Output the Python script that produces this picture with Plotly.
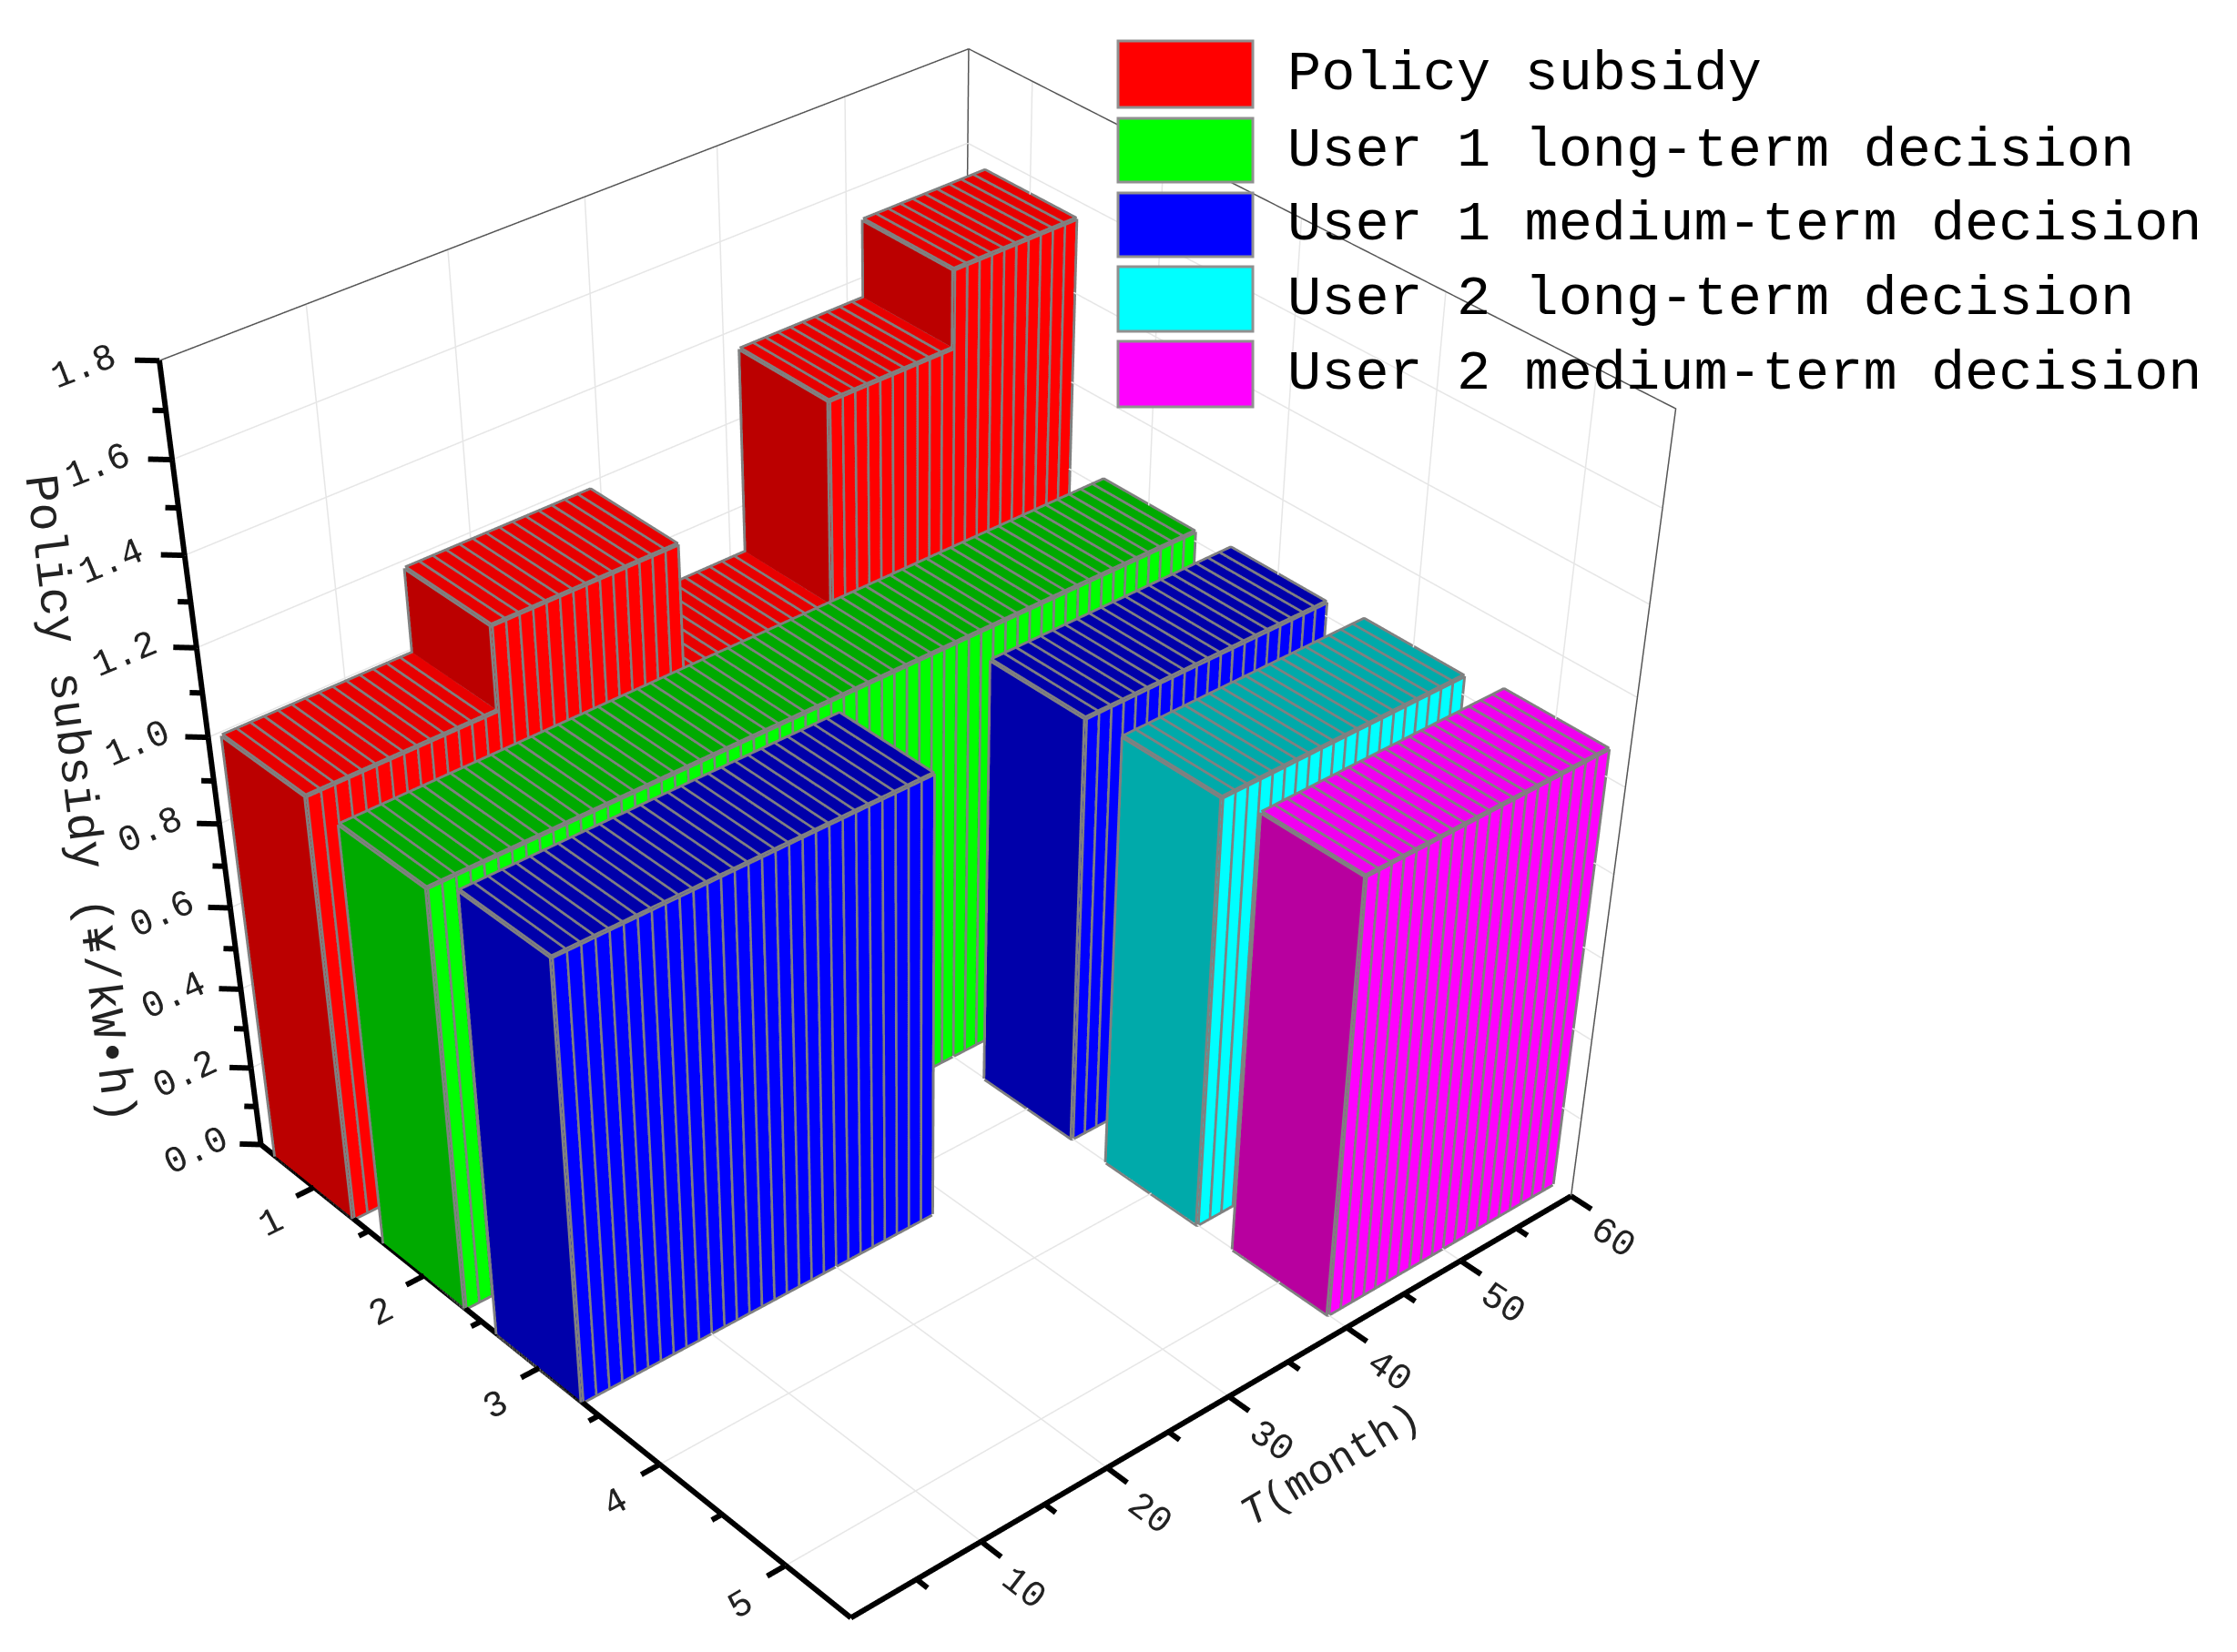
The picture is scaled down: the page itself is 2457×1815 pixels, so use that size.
import plotly.graph_objects as go

# ---- data ----
series_names = ["Policy subsidy", "User 1 long-term decision", "User 1 medium-term decision",
                "User 2 long-term decision", "User 2 medium-term decision"]
category_ticks = [1, 2, 3, 4, 5]
category_minor_ticks = [1.5, 2.5, 3.5, 4.5]
month_ticks = [10, 20, 30, 40, 50, 60]
month_minor_ticks = [5, 15, 25, 35, 45, 55]
value_ticks = [0.0, 0.2, 0.4, 0.6, 0.8, 1.0, 1.2, 1.4, 1.6, 1.8]
value_minor_ticks = [0.1, 0.3, 0.5, 0.7, 0.9, 1.1, 1.3, 1.5, 1.7]

policy_row = 1
policy_spans = [(0, 14), (14, 28), (28, 40), (40, 50), (50, 60)]
policy_values = [1.03, 1.22, 0.93, 1.39, 1.56]

user1_long_row = 2
user1_long_spans = [(0, 60)]
user1_long_values = [1.02]

user1_medium_row = 3
user1_medium_spans = [(0, 28), (40, 60)]
user1_medium_values = [1.07, 1.03]

user2_long_row = 4
user2_long_spans = [(40, 60)]
user2_long_values = [1.04]

user2_medium_row = 5
user2_medium_spans = [(40, 60)]
user2_medium_values = [1.06]

# ---- style ----
side_colors = ["#ff0000", "#00ff00", "#0000ff", "#00ffff", "#ff00ff"]
top_colors = ["#e80000", "#00aa00", "#0000aa", "#00aaaa", "#f000f0"]
end_colors = ["#bb0000", "#00aa00", "#0000aa", "#00aaaa", "#b8009f"]
edge = "#808080"
half_width = 0.36
X_RANGE = [0.5, 5.5]
Y_RANGE = [0, 60]
Z_RANGE = [0, 1.8]
# the scene is a little larger than the plotted box so that ticks are not clipped
X_PAD, Y_PAD, Z_PAD = 0.2, 2.0, 0.03

fig = go.Figure()


def add_series(row, spans, values, k):
    X, Y, Z, I, J, K, FC = [], [], [], [], [], [], []
    lx, ly, lz = [], [], []
    x0, x1 = row - half_width, row + half_width
    for (a, b), h in zip(spans, values):
        for m in range(a, b):
            y0, y1 = m, m + 1
            n = len(X)
            X += [x0, x1, x1, x0, x0, x1, x1, x0]
            Y += [y0, y0, y1, y1, y0, y0, y1, y1]
            Z += [0, 0, 0, 0, h, h, h, h]
            quads = [((4, 5, 6), top_colors[k]), ((4, 6, 7), top_colors[k]),
                     ((1, 2, 6), side_colors[k]), ((1, 6, 5), side_colors[k]),
                     ((0, 1, 5), end_colors[k]), ((0, 5, 4), end_colors[k])]
            for (p, q, r), c in quads:
                I.append(n + p); J.append(n + q); K.append(n + r); FC.append(c)
            lx += [x0, x1, x1, x0, x0, None]
            ly += [y0, y0, y1, y1, y0, None]
            lz += [h, h, h, h, h, None]
            for vx, vy in [(x1, y0), (x1, y1), (x0, y0)]:
                lx += [vx, vx, None]; ly += [vy, vy, None]; lz += [0, h, None]
            lx += [x0, x1, x1, None]; ly += [y0, y0, y1, None]; lz += [0, 0, 0, None]
    fig.add_trace(go.Mesh3d(x=X, y=Y, z=Z, i=I, j=J, k=K, facecolor=FC, flatshading=True,
                            name=series_names[k], hoverinfo="skip",
                            lighting=dict(ambient=1, diffuse=0, specular=0, roughness=1, fresnel=0)))
    fig.add_trace(go.Scatter3d(x=lx, y=ly, z=lz, mode="lines", line=dict(color=edge, width=11),
                               hoverinfo="skip", showlegend=False))


xa, xb = X_RANGE
ya, yb = Y_RANGE
za, zb = Z_RANGE

# grid on the floor and the two back walls
gx, gy, gz = [], [], []
for v in month_ticks[:-1]:
    gx += [xa, xb, None, xa, xa, None]; gy += [v, v, None, v, v, None]; gz += [za, za, None, za, zb, None]
for v in category_ticks:
    gx += [v, v, None, v, v, None]; gy += [ya, yb, None, yb, yb, None]; gz += [za, za, None, za, zb, None]
for v in value_ticks[1:-1]:
    gx += [xa, xa, None, xa, xb, None]; gy += [ya, yb, None, yb, yb, None]; gz += [v, v, None, v, v, None]
fig.add_trace(go.Scatter3d(x=gx, y=gy, z=gz, mode="lines", line=dict(color="#e6e6e6", width=3),
                           hoverinfo="skip", showlegend=False))

add_series(policy_row, policy_spans, policy_values, 0)
add_series(user1_long_row, user1_long_spans, user1_long_values, 1)
add_series(user1_medium_row, user1_medium_spans, user1_medium_values, 2)
add_series(user2_long_row, user2_long_spans, user2_long_values, 3)
add_series(user2_medium_row, user2_medium_spans, user2_medium_values, 4)

# thin frame of the back walls
fx = [xa, xa, None, xa, xb, xb, None, xa, xa]
fy = [ya, yb, None, yb, yb, yb, None, yb, yb]
fz = [zb, zb, None, zb, zb, za, None, za, zb]
fig.add_trace(go.Scatter3d(x=fx, y=fy, z=fz, mode="lines", line=dict(color="#555555", width=3),
                           hoverinfo="skip", showlegend=False))

# heavy axis lines with major and minor ticks
ax, ay, az = [xa, xb, None, xb, xb, None, xa, xa], [ya, ya, None, ya, yb, None, ya, ya], [za, za, None, za, za, None, za, zb]
for t, f in [(category_ticks, 1.0), (category_minor_ticks, 0.55)]:
    for v in t:
        ax += [None, v, v]; ay += [None, ya, ya - 1.4 * f]; az += [None, za, za]
for t, f in [(month_ticks, 1.0), (month_minor_ticks, 0.55)]:
    for v in t:
        ax += [None, xb, xb + 0.15 * f]; ay += [None, v, v]; az += [None, za, za]
for t, f in [(value_ticks, 1.0), (value_minor_ticks, 0.55)]:
    for v in t:
        ax += [None, xa, xa - 0.08 * f]; ay += [None, ya, ya - 1.0 * f]; az += [None, v, v]
fig.add_trace(go.Scatter3d(x=ax, y=ay, z=az, mode="lines", line=dict(color="black", width=12),
                           hoverinfo="skip", showlegend=False))

TICK_FONT = dict(family="Liberation Mono", size=22, color="#222222")
axis_common = dict(showbackground=False, showline=False,
                   showgrid=False, zeroline=False,
                   ticks="outside", tickcolor="rgba(0,0,0,0)", tickwidth=1, ticklen=5,
                   tickfont=TICK_FONT, title=dict(text=""), showspikes=False)

W, H = 2457.0, 4090.0
PAGE = 8  # offset of the page body
BASE_ASPECT = (1.0, 1.02, 0.92)
fig.update_layout(
    width=W, height=H, margin=dict(l=0, r=0, t=0, b=0),
    paper_bgcolor="white", showlegend=False,
    scene=dict(
        domain=dict(x=[0, 0.808], y=[0, 1]),
        aspectmode="manual",
        aspectratio=dict(x=BASE_ASPECT[0] * (xb - xa + 2 * X_PAD) / (xb - xa),
                         y=BASE_ASPECT[1] * (yb - ya + 2 * Y_PAD) / (yb - ya),
                         z=BASE_ASPECT[2] * (zb - za + 2 * Z_PAD) / (zb - za)),
        camera=dict(projection=dict(type="perspective"),
                    eye=dict(x=2.974, y=-2.566, z=2.552),
                    center=dict(x=0.525, y=-0.454, z=-0.834),
                    up=dict(x=0, y=0, z=1)),
        xaxis=dict(range=[xa - X_PAD, xb + X_PAD], tickvals=category_ticks, ticktext=[str(c) for c in category_ticks], **axis_common),
        yaxis=dict(range=[ya - Y_PAD, yb + Y_PAD], tickvals=month_ticks, ticktext=[str(m) for m in month_ticks], **axis_common),
        zaxis=dict(range=[za - Z_PAD, zb + Z_PAD], tickvals=value_ticks, ticktext=["%.1f" % v for v in value_ticks], **axis_common),
    ),
)

legend_tops = [45, 130, 212, 293, 375]
legend_bottoms = [118, 200, 282, 364, 447]
for k, name in enumerate(series_names):
    fig.add_shape(type="rect", xref="paper", yref="paper", x0=(1228 - PAGE) / W, x1=(1376 - PAGE) / W,
                  y0=1 - (legend_bottoms[k] - PAGE) / H, y1=1 - (legend_tops[k] - PAGE) / H,
                  fillcolor=side_colors[k], line=dict(color="#909090", width=3))
    fig.add_annotation(xref="paper", yref="paper", x=(1412 - PAGE) / W,
                       y=1 - ((legend_tops[k] + legend_bottoms[k]) / 2 - PAGE) / H,
                       text=name, showarrow=False, xanchor="left", yanchor="middle",
                       font=dict(family="Liberation Mono", size=62, color="black"))

fig.add_annotation(xref="paper", yref="paper", x=(86 - PAGE) / W, y=1 - (878 - PAGE) / H, text="Policy subsidy (¥/kW•h)",
                   showarrow=False, textangle=83, xanchor="center", yanchor="middle",
                   font=dict(family="Liberation Mono", size=52, color="#222222"))
fig.add_annotation(xref="paper", yref="paper", x=(1462 - PAGE) / W, y=1 - (1611 - PAGE) / H, text="<i>T</i>(month)",
                   showarrow=False, textangle=-31, xanchor="center", yanchor="middle",
                   font=dict(family="Liberation Mono", size=46, color="#222222"))

fig.write_html("out.html")
